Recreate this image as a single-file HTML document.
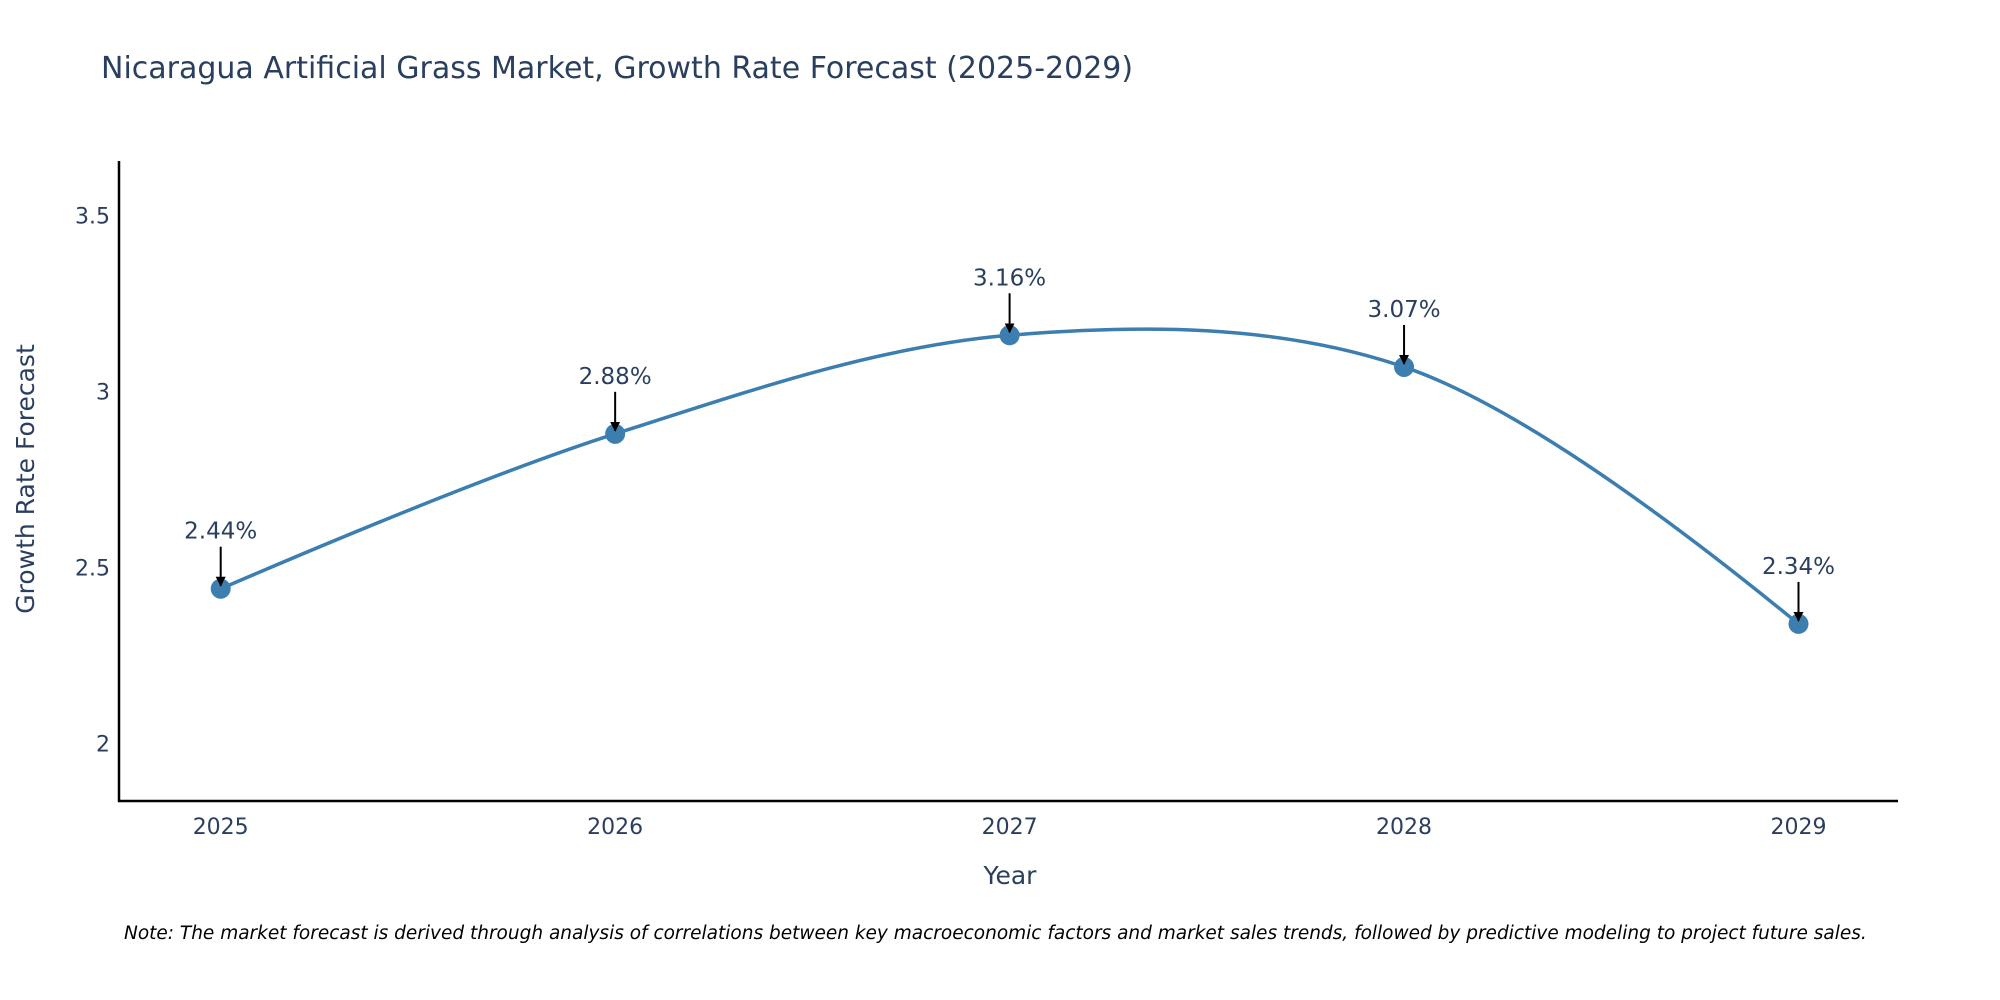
<!DOCTYPE html>
<html><head><meta charset="utf-8"><style>
body{margin:0;background:#fff;}
svg{display:block;font-family:"DejaVu Sans","Liberation Sans",sans-serif;}
</style></head><body>
<svg id="chart" width="2000" height="1000" viewBox="0 0 2000 1000">
<defs><marker id="ah" viewBox="0 0 10 10" refX="9" refY="5" markerWidth="5" markerHeight="5" orient="auto"><path d="M0,0 L10,5 L0,10 z" fill="#000"/></marker></defs>
<text x="101" y="78" font-size="30" fill="#2a3f5f">Nicaragua Artificial Grass Market, Growth Rate Forecast (2025-2029)</text>
<g id="yticks"></g>
<g id="xticks"></g>
<line x1="119" y1="161" x2="119" y2="802" stroke="#000" stroke-width="2.5"/>
<line x1="118" y1="801" x2="1898" y2="801" stroke="#000" stroke-width="2.5"/>
<text x="1010" y="884" font-size="25" fill="#2a3f5f" text-anchor="middle">Year</text>
<text transform="translate(34,479) rotate(-90)" font-size="25" fill="#2a3f5f" text-anchor="middle">Growth Rate Forecast</text>
<path id="line" fill="none" stroke="#3d7eb0" stroke-width="3.5"/>
<g id="marks"></g>
<text x="124" y="939" font-size="18.5" font-style="italic" fill="#000">Note: The market forecast is derived through analysis of correlations between key macroeconomic factors and market sales trends, followed by predictive modeling to project future sales.</text>
</svg>
<script>
const years = [2025, 2026, 2027, 2028, 2029];
const growth = [2.44, 2.88, 3.16, 3.07, 2.34];
const labels = ["2.44%", "2.88%", "3.16%", "3.07%", "2.34%"];
const yTicks = [2, 2.5, 3, 3.5];
const yTickLabels = ["2", "2.5", "3", "3.5"];

const NS = "http://www.w3.org/2000/svg";
const xs = v => 220.7 + (v - 2025) * 394.45;
const ys = v => 743.6 - (v - 2) * 352;
function mk(tag, attrs, parent, txt) {
  const e = document.createElementNS(NS, tag);
  for (const k in attrs) e.setAttribute(k, attrs[k]);
  if (txt !== undefined) e.textContent = txt;
  parent.appendChild(e);
  return e;
}
const yg = document.getElementById('yticks');
yTicks.forEach((t, i) => {
  const e = mk('text', {x: 110, y: ys(t) + 8, 'font-size': 22, fill: '#2a3f5f', 'text-anchor': 'end'}, yg, yTickLabels[i]);
  
  
});
const xg = document.getElementById('xticks');
years.forEach(y => {
  const e = mk('text', {x: xs(y), y: 834, 'font-size': 22, fill: '#2a3f5f', 'text-anchor': 'middle'}, xg, String(y));
  
  
});
const pts = years.map((y, i) => [xs(y), ys(growth[i])]);
function tangent(p0, p1, p2, s) {
  const d1x = p0[0]-p1[0], d1y = p0[1]-p1[1], d2x = p2[0]-p1[0], d2y = p2[1]-p1[1];
  const d1a = Math.pow(d1x*d1x+d1y*d1y, 0.25), d2a = Math.pow(d2x*d2x+d2y*d2y, 0.25);
  const nx = (d2a*d2a*d1x - d1a*d1a*d2x)*s, ny = (d2a*d2a*d1y - d1a*d1a*d2y)*s;
  const den1 = 3*d2a*(d1a+d2a), den2 = 3*d1a*(d1a+d2a);
  return [[p1[0]+nx/den1, p1[1]+ny/den1], [p1[0]-nx/den2, p1[1]-ny/den2]];
}
const tg = [];
for (let i = 1; i < pts.length - 1; i++) tg.push(tangent(pts[i-1], pts[i], pts[i+1], 1));
const P = p => p[0].toFixed(2) + ',' + p[1].toFixed(2);
let d = 'M' + P(pts[0]) + 'Q' + P(tg[0][0]) + ' ' + P(pts[1]);
for (let i = 1; i < pts.length - 2; i++) d += 'C' + P(tg[i-1][1]) + ' ' + P(tg[i][0]) + ' ' + P(pts[i+1]);
d += 'Q' + P(tg[tg.length-1][1]) + ' ' + P(pts[pts.length-1]);
document.getElementById('line').setAttribute('d', d);
const mg = document.getElementById('marks');
pts.forEach((p, i) => {
  const c = mk('circle', {cx: p[0], cy: p[1], r: 10, fill: '#3d7eb0'}, mg);
  
  
  const a = mk('line', {x1: p[0], y1: p[1] - 42, x2: p[0], y2: p[1] - 3, stroke: '#000', 'stroke-width': 2, 'marker-end': 'url(#ah)'}, mg);
  
  
  const t = mk('text', {x: p[0], y: p[1] - 50, 'font-size': 23, fill: '#2a3f5f', 'text-anchor': 'middle'}, mg, labels[i]);
  
  
});
</script>
</body></html>
